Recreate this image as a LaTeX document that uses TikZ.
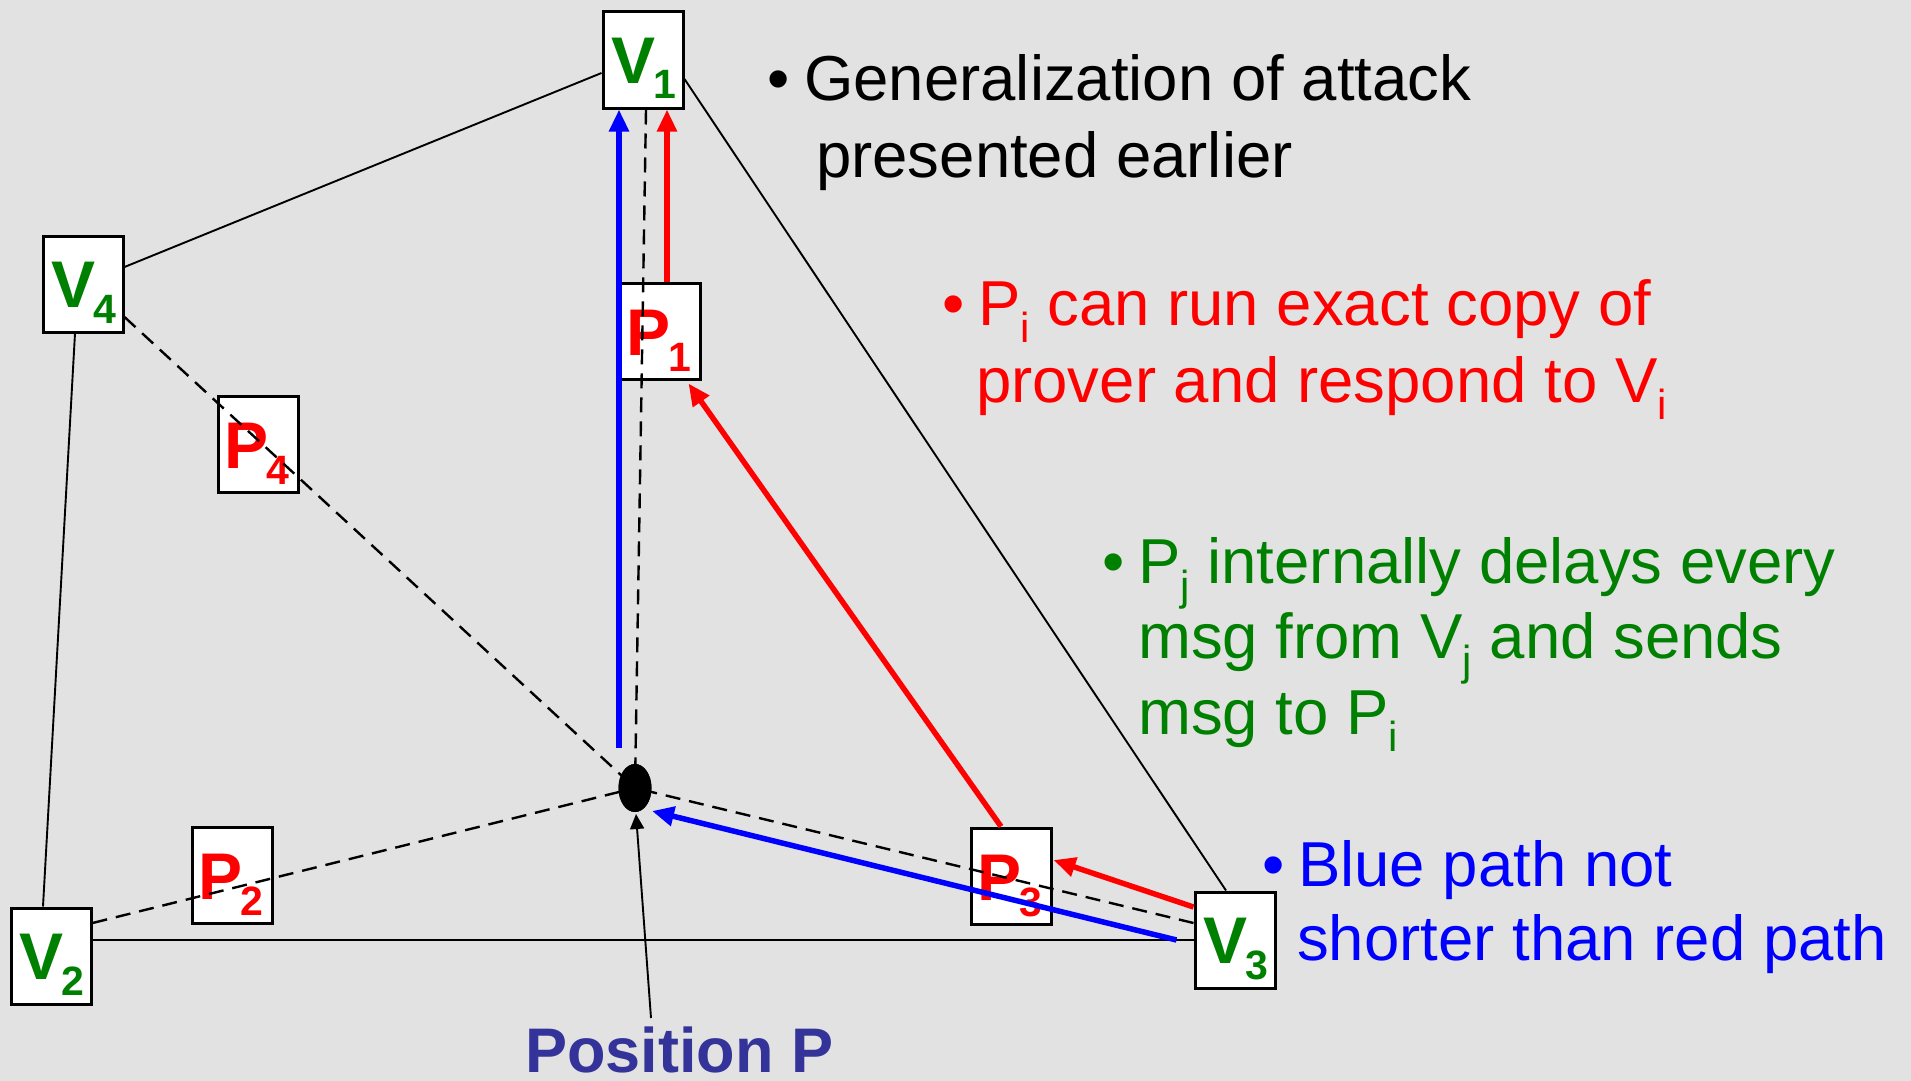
\documentclass[tikz,border=0pt]{standalone}
\usepackage{fontspec}
\setmainfont{Liberation Sans}
\usetikzlibrary{arrows.meta,calc,shapes.geometric}
\definecolor{bg}{RGB}{226,226,226}
\definecolor{vgreen}{RGB}{0,128,0}
\definecolor{pred}{RGB}{255,0,0}
\definecolor{bblue}{RGB}{0,0,255}
\definecolor{posblue}{RGB}{51,51,153}
\newcommand\sublow[1]{\raisebox{-16pt}{\fontsize{41}{41}\selectfont #1}}
\newcommand\txtsub[1]{\raisebox{-17pt}{\fontsize{42}{42}\selectfont #1}}
\begin{document}
\begin{tikzpicture}[x=1pt,y=-1pt,
  box/.style={draw=black, line width=3pt, fill=white, minimum width=80pt, minimum height=96pt, inner sep=0pt},
  lab/.style={anchor=base west, inner sep=0pt, font=\bfseries\fontsize{66}{66}\selectfont},
  edge/.style={draw=black, line width=1.9pt},
  dashln/.style={draw=black, line width=2.4pt, dash pattern=on 15pt off 9pt},
  redarr/.style={draw=pred, line width=5.5pt, -{Triangle[length=22pt,width=19pt]}},
  bluearr/.style={draw=bblue, line width=5.5pt, -{Triangle[length=22pt,width=19pt]}},
  blackarr/.style={draw=black, line width=1.9pt, -{Triangle[length=15pt,width=14pt]}},
  txt/.style={anchor=base west, inner sep=0pt, font=\fontsize{63.5}{77}\selectfont},
]
\fill[bg] (0,0) rectangle (1911,1081);
\useasboundingbox (0,0) rectangle (1911,1081);

% boxes
\node[box] (V1) at (643,60) {};
\node[box] (V4) at (83,284) {};
\node[box] (V2) at (51,956) {};
\node[box] (V3) at (1235,940) {};
\node[box] (P1) at (660,331) {};
\node[box] (P4) at (258.5,444) {};
\node[box] (P2) at (232.5,875.5) {};
\node[box] (P3) at (1011,876) {};

% box labels
\node[lab, text=vgreen] (V1t) at ($(V1)+(-32,23)$) {V\kern-2pt\sublow{1}};
\node[lab, text=vgreen] (V4t) at ($(V4)+(-32,23)$) {V\kern-2pt\sublow{4}};
\node[lab, text=vgreen] (V2t) at ($(V2)+(-32,23)$) {V\kern-2pt\sublow{2}};
\node[lab, text=vgreen] (V3t) at ($(V3)+(-32,23)$) {V\kern-2pt\sublow{3}};
\node[lab, text=pred] (P1t) at ($(P1)+(-34,24)$) {P\kern-2pt\sublow{1}};
\node[lab, text=pred] (P4t) at ($(P4)+(-34,24)$) {P\kern-2pt\sublow{4}};
\node[lab, text=pred] (P2t) at ($(P2)+(-34,24)$) {P\kern-2pt\sublow{2}};
\node[lab, text=pred] (P3t) at ($(P3)+(-34,24)$) {P\kern-2pt\sublow{3}};

% dot
\node[ellipse, fill=black, minimum width=33pt, minimum height=48pt, inner sep=0pt] (dot) at (635,788) {};

% solid edges
\draw[edge] ($(V4.east)+(0,-17)$) -- ($(V1.west)+(0,13)$);
\draw[edge] ($(V1.east)+(0,19)$) -- ($(V3.north)+(-9,0)$);
\draw[edge] ($(V4.south)+(-8,0)$) -- ($(V2.north)+(-8,0)$);
\draw[edge] (V3.west -| V2.east) -- (V3.west);

% dashed lines to position P
\draw[dashln] ($(V1.south)+(3,0)$) -- (dot.center);
\draw[dashln] ($(V4.east)+(0,33)$) -- (dot.center);
\draw[dashln] ($(V2.east)+(0,-33)$) -- (dot.center);
\draw[dashln] ($(V3.west)+(0,-17)$) -- (dot.center);
\node[ellipse, fill=black, minimum width=33pt, minimum height=48pt, inner sep=0pt] (dot2) at (dot.center) {};

% coloured arrows
\draw[bluearr] ($(V1.south)+(-24,638)$) -- ($(V1.south)+(-24,0)$);
\draw[redarr] ($(P1.north)+(7,0)$) -- ($(V1.south)+(24,0)$);
\draw[redarr] ($(P3.north)+(-10,0)$) -- ($(P1.south east)+(-13,3)$);
\draw[redarr] ($(V3.west)+(0,-33)$) -- ($(P3.east)+(1,-16)$);
\draw[bluearr] ($(V3.west)+(-17,0)$) -- ($(dot.center)+(17,23)$);

% position label
\node[anchor=base west, inner sep=0pt, text=posblue, font=\bfseries\fontsize{63}{63}\selectfont] (pos) at (525,1072) {Position P};
\coordinate (pstart) at (651,1018);
\draw[blackarr] (pstart) -- ($(dot.center)+(1,26)$);

% texts
\node[txt] (b1) at (767,100) {\textbullet};
\node[txt] (t1a) at (804,100) {Generalization of attack};
\node[txt] (t1b) at (816,177) {presented earlier};

\node[txt, text=pred] (b2) at (942,325) {\textbullet};
\node[txt, text=pred] (t2a) at (978,325) {P\txtsub{i} can run exact copy of};
\node[txt, text=pred] (t2b) at (976,402) {prover and respond to V\txtsub{i}};

\node[txt, text=vgreen] (b3) at (1102,583) {\textbullet};
\node[txt, text=vgreen] (t3a) at (1138,583) {P\txtsub{j} internally delays every};
\node[txt, text=vgreen] (t3b) at (1138,658) {msg from V\txtsub{j} and sends};
\node[txt, text=vgreen] (t3c) at (1138,734) {msg to P\txtsub{i}};

\node[txt, text=bblue] (b4) at (1262,886) {\textbullet};
\node[txt, text=bblue] (t4a) at (1298,886) {Blue path not};
\node[txt, text=bblue] (t4b) at (1297,960) {shorter than red path};
\end{tikzpicture}
\end{document}
